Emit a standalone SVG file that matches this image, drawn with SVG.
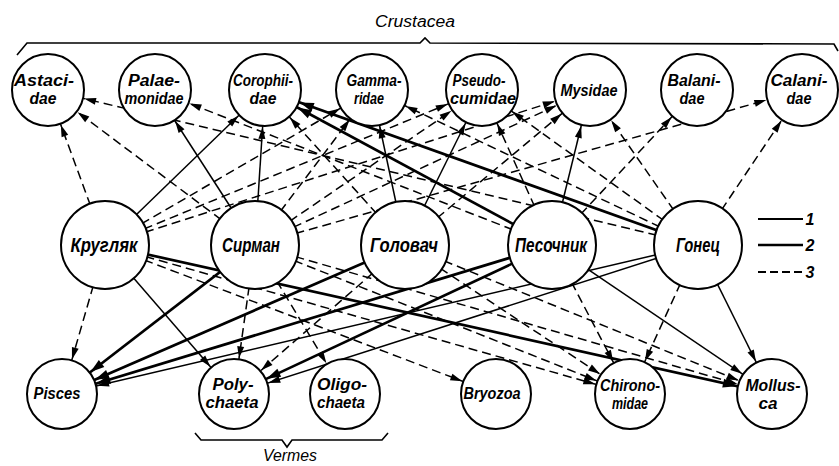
<svg xmlns="http://www.w3.org/2000/svg" width="839" height="466" viewBox="0 0 839 466">
<style>
.bg{fill:#fff}
.n circle{fill:#fff;stroke:#000;stroke-width:2}
.lb{font-family:"Liberation Sans",Arial,sans-serif;font-style:italic;font-weight:bold;fill:#000;text-anchor:middle}
.t18{font-size:16px}
.t21{font-size:20px}
.cap{font-family:"Liberation Sans",Arial,sans-serif;font-style:italic;font-size:16px;fill:#000;text-anchor:middle}
.c line{stroke:#000;fill:none}
.t1{stroke-width:1.5}
.t2{stroke-width:2.7}
.t3{stroke-width:1.5;stroke-dasharray:9 5}
.br{fill:none;stroke:#000;stroke-width:1.6}
.ah{fill:#000;stroke:none}
</style>
<defs>
<marker id="at" markerUnits="userSpaceOnUse" markerWidth="60" markerHeight="20" refX="49" refY="0" orient="auto" overflow="visible"><path class="ah" d="M0,-3.5 L12,0 L0,3.5 Z"/></marker>
<marker id="atk" markerUnits="userSpaceOnUse" markerWidth="60" markerHeight="20" refX="51" refY="0" orient="auto" overflow="visible"><path class="ah" d="M0,-4.5 L14,0 L0,4.5 Z"/></marker>
<marker id="ab" markerUnits="userSpaceOnUse" markerWidth="60" markerHeight="20" refX="48" refY="0" orient="auto" overflow="visible"><path class="ah" d="M0,-3.5 L12,0 L0,3.5 Z"/></marker>
<marker id="abk" markerUnits="userSpaceOnUse" markerWidth="60" markerHeight="20" refX="50" refY="0" orient="auto" overflow="visible"><path class="ah" d="M0,-4.5 L14,0 L0,4.5 Z"/></marker>
</defs>
<rect class="bg" x="0" y="0" width="839" height="466"/>

<g id="connectors" class="c">
<!-- to Crustacea (top row) -->
<line class="t3" x1="105" y1="245" x2="48" y2="90" marker-end="url(#at)"/>
<line class="t1" x1="105" y1="245" x2="265" y2="90" marker-end="url(#at)"/>
<line class="t3" x1="105" y1="245" x2="372" y2="90" marker-end="url(#at)"/>
<line class="t3" x1="105" y1="245" x2="482" y2="90" marker-end="url(#at)"/>
<line class="t3" x1="105" y1="245" x2="590" y2="90" marker-end="url(#at)"/>
<line class="t3" x1="255" y1="245" x2="48" y2="90" marker-end="url(#at)"/>
<line class="t1" x1="255" y1="245" x2="155" y2="90" marker-end="url(#at)"/>
<line class="t1" x1="255" y1="245" x2="265" y2="90" marker-end="url(#at)"/>
<line class="t3" x1="255" y1="245" x2="372" y2="90" marker-end="url(#at)"/>
<line class="t3" x1="255" y1="245" x2="482" y2="90" marker-end="url(#at)"/>
<line class="t3" x1="255" y1="245" x2="590" y2="90" marker-end="url(#at)"/>
<line class="t3" x1="255" y1="245" x2="802" y2="90" marker-end="url(#at)"/>
<line class="t3" x1="405" y1="245" x2="265" y2="90" marker-end="url(#at)"/>
<line class="t1" x1="405" y1="245" x2="372" y2="90" marker-end="url(#at)"/>
<line class="t1" x1="405" y1="245" x2="482" y2="90" marker-end="url(#at)"/>
<line class="t3" x1="405" y1="245" x2="590" y2="90" marker-end="url(#at)"/>
<line class="t3" x1="552" y1="245" x2="155" y2="90" marker-end="url(#at)"/>
<line class="t2" x1="552" y1="245" x2="265" y2="90" marker-end="url(#atk)"/>
<line class="t3" x1="552" y1="245" x2="482" y2="90" marker-end="url(#at)"/>
<line class="t1" x1="552" y1="245" x2="590" y2="90" marker-end="url(#at)"/>
<line class="t3" x1="552" y1="245" x2="697" y2="90" marker-end="url(#at)"/>
<line class="t3" x1="698" y1="245" x2="48" y2="90" marker-end="url(#at)"/>
<line class="t2" x1="698" y1="245" x2="265" y2="90" marker-end="url(#atk)"/>
<line class="t3" x1="698" y1="245" x2="372" y2="90" marker-end="url(#at)"/>
<line class="t3" x1="698" y1="245" x2="482" y2="90" marker-end="url(#at)"/>
<line class="t3" x1="698" y1="245" x2="590" y2="90" marker-end="url(#at)"/>
<line class="t3" x1="698" y1="245" x2="802" y2="90" marker-end="url(#at)"/>
<!-- to bottom row -->
<line class="t3" x1="105" y1="245" x2="62" y2="394" marker-end="url(#ab)"/>
<line class="t1" x1="105" y1="245" x2="234" y2="394" marker-end="url(#ab)"/>
<line class="t3" x1="105" y1="245" x2="496" y2="394" marker-end="url(#ab)"/>
<line class="t3" x1="105" y1="245" x2="630" y2="394" marker-end="url(#ab)"/>
<line class="t2" x1="105" y1="245" x2="772" y2="394" marker-end="url(#abk)"/>
<line class="t2" x1="255" y1="245" x2="62" y2="394" marker-end="url(#abk)"/>
<line class="t3" x1="255" y1="245" x2="234" y2="394" marker-end="url(#ab)"/>
<line class="t3" x1="255" y1="245" x2="345" y2="394" marker-end="url(#ab)"/>
<line class="t3" x1="255" y1="245" x2="630" y2="394" marker-end="url(#ab)"/>
<line class="t3" x1="255" y1="245" x2="772" y2="394" marker-end="url(#ab)"/>
<line class="t2" x1="405" y1="245" x2="62" y2="394" marker-end="url(#abk)"/>
<line class="t3" x1="405" y1="245" x2="234" y2="394" marker-end="url(#ab)"/>
<line class="t3" x1="405" y1="245" x2="630" y2="394" marker-end="url(#ab)"/>
<line class="t3" x1="405" y1="245" x2="772" y2="394" marker-end="url(#ab)"/>
<line class="t2" x1="552" y1="245" x2="62" y2="394" marker-end="url(#abk)"/>
<line class="t2" x1="552" y1="245" x2="234" y2="394" marker-end="url(#abk)"/>
<line class="t3" x1="552" y1="245" x2="630" y2="394" marker-end="url(#ab)"/>
<line class="t1" x1="552" y1="245" x2="772" y2="394" marker-end="url(#ab)"/>
<line class="t1" x1="698" y1="245" x2="62" y2="394" marker-end="url(#ab)"/>
<line class="t1" x1="698" y1="245" x2="234" y2="394" marker-end="url(#ab)"/>
<line class="t3" x1="698" y1="245" x2="630" y2="394" marker-end="url(#ab)"/>
<line class="t1" x1="698" y1="245" x2="772" y2="394" marker-end="url(#ab)"/>
</g>

<!-- Crustacea row -->
<g id="astacidae" class="n"><circle cx="48" cy="90" r="36"/><text class="lb t18" x="44" y="86" textLength="60" lengthAdjust="spacingAndGlyphs">Astaci-</text><text class="lb t18" x="43" y="104" textLength="27" lengthAdjust="spacingAndGlyphs">dae</text></g>
<g id="palaemonidae" class="n"><circle cx="155" cy="90" r="36"/><text class="lb t18" x="154" y="86" textLength="52" lengthAdjust="spacingAndGlyphs">Palae-</text><text class="lb t18" x="154" y="104" textLength="59" lengthAdjust="spacingAndGlyphs">monidae</text></g>
<g id="corophiidae" class="n"><circle cx="265" cy="90" r="36"/><text class="lb t18" x="263" y="86" textLength="60" lengthAdjust="spacingAndGlyphs">Corophii-</text><text class="lb t18" x="263" y="104" textLength="27" lengthAdjust="spacingAndGlyphs">dae</text></g>
<g id="gammaridae" class="n"><circle cx="372" cy="90" r="36"/><text class="lb t18" x="374" y="86" textLength="55" lengthAdjust="spacingAndGlyphs">Gamma-</text><text class="lb t18" x="369" y="104" textLength="30" lengthAdjust="spacingAndGlyphs">ridae</text></g>
<g id="pseudocumidae" class="n"><circle cx="482" cy="90" r="36"/><text class="lb t18" x="479" y="86" textLength="53" lengthAdjust="spacingAndGlyphs">Pseudo-</text><text class="lb t18" x="483" y="104" textLength="66" lengthAdjust="spacingAndGlyphs">cumidae</text></g>
<g id="mysidae" class="n"><circle cx="590" cy="90" r="36"/><text class="lb t18" x="589" y="96" textLength="57" lengthAdjust="spacingAndGlyphs">Mysidae</text></g>
<g id="balanidae" class="n"><circle cx="697" cy="90" r="36"/><text class="lb t18" x="694" y="86" textLength="53" lengthAdjust="spacingAndGlyphs">Balani-</text><text class="lb t18" x="692" y="104" textLength="25" lengthAdjust="spacingAndGlyphs">dae</text></g>
<g id="calanidae" class="n"><circle cx="802" cy="90" r="36"/><text class="lb t18" x="799" y="86" textLength="57" lengthAdjust="spacingAndGlyphs">Calani-</text><text class="lb t18" x="799" y="104" textLength="25" lengthAdjust="spacingAndGlyphs">dae</text></g>

<!-- fishes -->
<g id="kruglyak" class="n"><circle cx="105" cy="245" r="44"/><text class="lb t21" x="104" y="252" textLength="67" lengthAdjust="spacingAndGlyphs">Кругляк</text></g>
<g id="sirman" class="n"><circle cx="255" cy="245" r="44"/><text class="lb t21" x="251" y="252" textLength="58" lengthAdjust="spacingAndGlyphs">Сирман</text></g>
<g id="golovach" class="n"><circle cx="405" cy="245" r="44"/><text class="lb t21" x="404" y="252" textLength="68" lengthAdjust="spacingAndGlyphs">Головач</text></g>
<g id="pesochnik" class="n"><circle cx="552" cy="245" r="44"/><text class="lb t21" x="551" y="252" textLength="72" lengthAdjust="spacingAndGlyphs">Песочник</text></g>
<g id="gonets" class="n"><circle cx="698" cy="245" r="44"/><text class="lb t21" x="698" y="252" textLength="44" lengthAdjust="spacingAndGlyphs">Гонец</text></g>

<!-- bottom row -->
<g id="pisces" class="n"><circle cx="62" cy="394" r="35"/><text class="lb t18" x="57" y="399" textLength="47" lengthAdjust="spacingAndGlyphs">Pisces</text></g>
<g id="polychaeta" class="n"><circle cx="234" cy="394" r="35"/><text class="lb t18" x="233" y="390" textLength="41" lengthAdjust="spacingAndGlyphs">Poly-</text><text class="lb t18" x="232" y="408" textLength="53" lengthAdjust="spacingAndGlyphs">chaeta</text></g>
<g id="oligochaeta" class="n"><circle cx="345" cy="394" r="35"/><text class="lb t18" x="342" y="390" textLength="50" lengthAdjust="spacingAndGlyphs">Oligo-</text><text class="lb t18" x="341" y="408" textLength="48" lengthAdjust="spacingAndGlyphs">chaeta</text></g>
<g id="bryozoa" class="n"><circle cx="496" cy="394" r="35"/><text class="lb t18" x="492" y="399" textLength="57" lengthAdjust="spacingAndGlyphs">Bryozoa</text></g>
<g id="chironomidae" class="n"><circle cx="630" cy="394" r="35"/><text class="lb t18" x="630" y="391" textLength="60" lengthAdjust="spacingAndGlyphs">Chirono-</text><text class="lb t18" x="630" y="409" textLength="36" lengthAdjust="spacingAndGlyphs">midae</text></g>
<g id="mollusca" class="n"><circle cx="772" cy="394" r="35"/><text class="lb t18" x="773" y="391" textLength="55" lengthAdjust="spacingAndGlyphs">Mollus-</text><text class="lb t18" x="768" y="409" textLength="19" lengthAdjust="spacingAndGlyphs">ca</text></g>

<!-- group brackets -->
<g id="crustacea-bracket">
<path class="br" d="M17,55 L27,43 L420,43 L425,38 L430,43 L834,44 L838,51"/>
<text class="cap" x="415" y="27" textLength="80" lengthAdjust="spacingAndGlyphs">Crustacea</text>
</g>
<g id="vermes-bracket">
<path class="br" d="M195,433 L201,440 L282,440 L287,447 L292,440 L382,440 L388,433"/>
<text class="cap" x="290" y="461" textLength="54" lengthAdjust="spacingAndGlyphs">Vermes</text>
</g>

<!-- legend -->
<g id="legend">
<line x1="758" y1="219" x2="803" y2="219" stroke="#000" stroke-width="2"/>
<line x1="758" y1="245" x2="803" y2="245" stroke="#000" stroke-width="2.7"/>
<line x1="758" y1="272" x2="803" y2="272" stroke="#000" stroke-width="1.8" stroke-dasharray="8 4"/>
<text class="lb t18" x="810" y="225">1</text>
<text class="lb t18" x="810" y="251">2</text>
<text class="lb t18" x="810" y="278">3</text>
</g>
</svg>
